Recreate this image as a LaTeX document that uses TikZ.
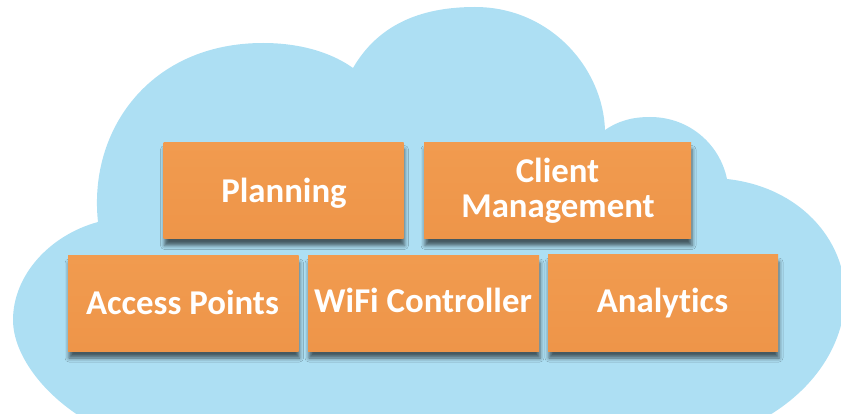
\documentclass[tikz,border=0pt]{standalone}
\usepackage{fontspec}
\setmainfont{Carlito}[Ligatures=NoCommon]
\usetikzlibrary{shadows.blur}
\definecolor{cloudblue}{HTML}{ADDFF3}
\definecolor{boxorange}{HTML}{EE9549}
\definecolor{boxorangetop}{HTML}{F19B4F}
\tikzset{
  tile/.style={rectangle, inner sep=0pt, top color=boxorangetop, bottom color=boxorange,
    blur shadow={shadow xshift=1pt, shadow yshift=-7pt, shadow blur radius=4pt, shadow opacity=60}},
  tiletext/.style={anchor=base, inner sep=0pt, text=white, font=\fontsize{34.8}{35}\selectfont\bfseries},
}
\begin{document}
\begin{tikzpicture}[x=1pt,y=-1pt]
\useasboundingbox (0,0) rectangle (841,414);
\clip (0,0) rectangle (841,414);
\fill[cloudblue] (98,222)
  .. controls (88,130) and (150,43) .. (263,43)
  .. controls (305,43) and (335,55) .. (353,68)
  .. controls (378,25) and (420,7) .. (475,7)
  .. controls (550,7) and (603,68) .. (605,130)
  .. controls (618,121) and (632,117) .. (650,117)
  .. controls (690,117) and (720,145) .. (727,179)
  .. controls (800,187) and (845,240) .. (845,295)
  .. controls (845,345) and (812,398) .. (745,428)
  -- (100,428)
  .. controls (45,400) and (13,355) .. (13,320)
  .. controls (13,275) and (50,235) .. (98,222) -- cycle;
\node[tile, minimum width=240pt, minimum height=96pt] (planning) at (283.5,190.5) {};
\node[tile, minimum width=267pt, minimum height=96pt] (client) at (557.5,190.5) {};
\node[tile, minimum width=230.5pt, minimum height=95pt] (access) at (183.25,303.5) {};
\node[tile, minimum width=231pt, minimum height=95pt] (wifi) at (423.5,303.5) {};
\node[tile, minimum width=230pt, minimum height=96pt] (analytics) at (663,303) {};
\node[tiletext] (planningtext) at (284,203) {Planning};
\node[tiletext] (clienttext) at (557.5,183) {Client};
\node[tiletext] (managementtext) at (558,218) {Management};
\node[tiletext] (accesstext) at (182.5,314) {Access Points};
\node[tiletext] (wifitext) at (423,312.5) {WiFi Controller};
\node[tiletext] (analyticstext) at (662.5,312.5) {Analytics};
\end{tikzpicture}
\end{document}
